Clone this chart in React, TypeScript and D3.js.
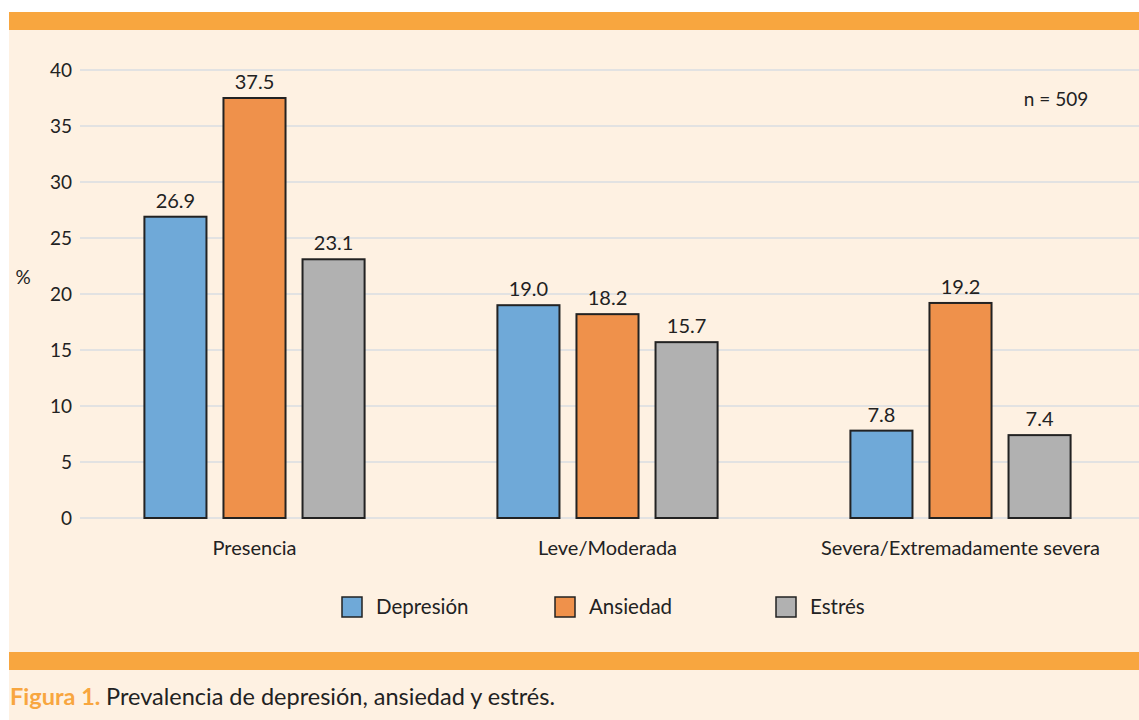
import React, { useEffect, useRef } from "react";
import * as d3 from "d3";

const categories = ["Presencia", "Leve/Moderada", "Severa/Extremadamente severa"];
const seriesNames = ["Depresión", "Ansiedad", "Estrés"];
const depresion = [26.9, 19.0, 7.8];
const ansiedad = [37.5, 18.2, 19.2];
const estres = [23.1, 15.7, 7.4];
const yTicks = [0, 5, 10, 15, 20, 25, 30, 35, 40];
const colors = ["#6fa9d8", "#ef914b", "#b1b1b1"];

const FONT = "Lato, 'Open Sans', sans-serif";

const App = () => {
  const svgEl = useRef<SVGSVGElement>(null);

  useEffect(() => {
    if (!svgEl.current) return;
    drawChartOn(svgEl.current);
  }, []);

  return (
    <svg
      ref={svgEl}
      width={1139}
      height={720}
      style={{ position: "absolute", left: 0, top: 0, display: "block" }}
    />
  );
};

function drawChartOn(svgEl: SVGSVGElement) {
  const svg = d3.select(svgEl);
  svg.selectAll("*").remove();

  const values = [depresion, ansiedad, estres];

  // frame
  svg.append("rect").attr("x", 0).attr("y", 0).attr("width", 1139).attr("height", 720).attr("fill", "#ffffff");
  svg.append("rect").attr("x", 9).attr("y", 12).attr("width", 1130).attr("height", 708).attr("fill", "#fef1e2");
  svg.append("rect").attr("x", 9).attr("y", 12).attr("width", 1130).attr("height", 18).attr("fill", "#f8a63f");
  svg.append("rect").attr("x", 9).attr("y", 652).attr("width", 1130).attr("height", 18).attr("fill", "#f8a63f");

  const y = d3.scaleLinear().domain([0, 40]).range([518, 70]);
  const x0 = d3.scaleBand<string>().domain(categories).range([78, 1137]);
  const x1 = d3
    .scaleBand<string>()
    .domain(seriesNames)
    .range([0, x0.bandwidth()])
    .paddingInner(0.215)
    .paddingOuter(0.84);

  // grid
  const grid = svg.append("g");
  grid
    .selectAll("line")
    .data(yTicks)
    .enter()
    .append("line")
    .attr("x1", 80)
    .attr("x2", 1139)
    .attr("y1", (d) => y(d))
    .attr("y2", (d) => y(d))
    .attr("stroke", "#d9dde2")
    .attr("stroke-width", 1.5);

  grid
    .selectAll("text")
    .data(yTicks)
    .enter()
    .append("text")
    .attr("x", 72)
    .attr("y", (d) => y(d))
    .attr("dy", "0.35em")
    .attr("text-anchor", "end")
    .attr("font-family", FONT)
    .attr("font-size", 19)
    .attr("fill", "#222")
    .text((d) => d);

  svg
    .append("text")
    .attr("x", 23)
    .attr("y", 277)
    .attr("dy", "0.35em")
    .attr("text-anchor", "middle")
    .attr("font-family", FONT)
    .attr("font-size", 19)
    .attr("fill", "#222")
    .text("%");

  // bars
  seriesNames.forEach((s, si) => {
    const g = svg.append("g");
    g.selectAll("rect")
      .data(values[si])
      .enter()
      .append("rect")
      .attr("x", (_, i) => (x0(categories[i]) as number) + (x1(s) as number))
      .attr("y", (d) => y(d))
      .attr("width", x1.bandwidth())
      .attr("height", (d) => y(0) - y(d))
      .attr("fill", colors[si])
      .attr("stroke", "#222")
      .attr("stroke-width", 2);

    g.selectAll("text")
      .data(values[si])
      .enter()
      .append("text")
      .attr("x", (_, i) => (x0(categories[i]) as number) + (x1(s) as number) + x1.bandwidth() / 2)
      .attr("y", (d) => y(d) - 9)
      .attr("text-anchor", "middle")
      .attr("font-family", FONT)
      .attr("font-size", 20)
      .attr("fill", "#222")
      .text((d) => d.toFixed(1));
  });

  // category labels
  svg
    .append("g")
    .selectAll("text")
    .data(categories)
    .enter()
    .append("text")
    .attr("x", (d) => (x0(d) as number) + x0.bandwidth() / 2)
    .attr("y", 548)
    .attr("dy", "0.35em")
    .attr("text-anchor", "middle")
    .attr("font-family", FONT)
    .attr("font-size", 20)
    .attr("fill", "#222")
    .text((d) => d);

  svg
    .append("text")
    .attr("x", 1056)
    .attr("y", 99)
    .attr("dy", "0.35em")
    .attr("text-anchor", "middle")
    .attr("font-family", FONT)
    .attr("font-size", 19)
    .attr("fill", "#222")
    .text("n = 509");

  // legend
  const legendX = [342, 555, 776];
  const legend = svg
    .append("g")
    .selectAll("g")
    .data(seriesNames)
    .enter()
    .append("g")
    .attr("transform", (_, i) => `translate(${legendX[i]},597)`);
  legend
    .append("rect")
    .attr("width", 20)
    .attr("height", 20)
    .attr("fill", (_, i) => colors[i])
    .attr("stroke", "#222")
    .attr("stroke-width", 1.5);
  legend
    .append("text")
    .attr("x", 34)
    .attr("y", 10)
    .attr("dy", "0.35em")
    .attr("font-family", FONT)
    .attr("font-size", 20.5)
    .attr("fill", "#222")
    .text((d) => d);

  // caption
  const cap = svg
    .append("text")
    .attr("x", 10)
    .attr("y", 705)
    .attr("font-family", FONT)
    .attr("font-size", 23.5)
    .attr("fill", "#222");
  cap.append("tspan").attr("font-weight", "bold").attr("fill", "#f8a63f").text("Figura 1. ");
  cap.append("tspan").text("Prevalencia de depresión, ansiedad y estrés.");
}

export default App;
